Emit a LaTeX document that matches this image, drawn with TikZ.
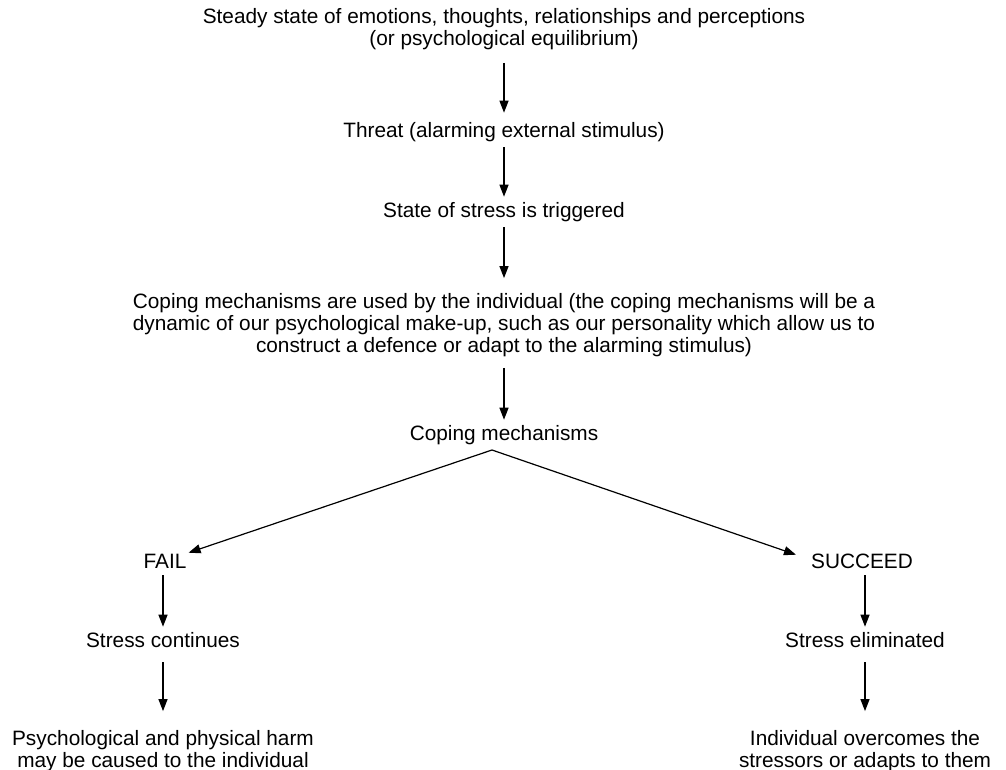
\documentclass[tikz,border=0pt]{standalone}
\usepackage{fontspec}
\setmainfont{Liberation Sans}
\usetikzlibrary{arrows.meta}

\tikzset{
  txt/.style={inner sep=0pt, align=center, font=\fontsize{20.8}{22}\selectfont},
  one/.style={txt, text height=15.2pt, text depth=5pt},
  arr/.style 2 args={draw, line width=1.2pt, -{Triangle[length=12pt,width=9pt]},
    shorten <=#1, shorten >=#2},
}

\begin{document}
\begin{tikzpicture}[x=1pt, y=-1pt]
\useasboundingbox (0,0) rectangle (1006,770);

% central chain
\node[txt] (top) at (504,29) {Steady state of emotions, thoughts, relationships and perceptions\\(or psychological equilibrium)};
\node[one] (threat) at (504,132) {Threat (alarming external stimulus)};
\node[one] (state) at (504,212) {State of stress is triggered};
\node[txt] (coping) at (504,325) {Coping mechanisms are used by the individual (the coping mechanisms will be a\\dynamic of our psychological make-up, such as our personality which allow us to\\construct a defence or adapt to the alarming stimulus)};
\node[one] (cm) at (504,435) {Coping mechanisms};
\coordinate (split) at (492,450);

% two outcomes
\node[one] (fail) at (165,563) {FAIL};
\node[one] (succ) at (862,563) {SUCCEED};
\node[one] (cont) at (163,642) {Stress continues};
\node[one] (elim) at (865,642) {Stress eliminated};
\node[txt] (harm) at (163,751) {Psychological and physical harm\\may be caused to the individual};
\node[txt] (over) at (865,751) {Individual overcomes the\\stressors or adapts to them};

% connectors
\path[arr={13pt}{9pt}] (top) -- (threat);
\path[arr={5pt}{5pt}] (threat) -- (state);
\path[arr={5pt}{15pt}] (state) -- (coping);
\path[arr={11pt}{5pt}] (coping) -- (cm);
\path[arr={0pt}{0pt}] (split) -- ([xshift=2pt]fail.north east);
\path[arr={0pt}{0pt}] (split) -- ([xshift=-15pt,yshift=-2pt]succ.north west);
\path[arr={2pt}{5pt}] (fail.south -| cont) -- (cont);
\path[arr={10pt}{19pt}] (cont) -- (harm);
\path[arr={2pt}{5pt}] (succ.south -| elim) -- (elim);
\path[arr={10pt}{19pt}] (elim) -- (over);
\end{tikzpicture}
\end{document}
